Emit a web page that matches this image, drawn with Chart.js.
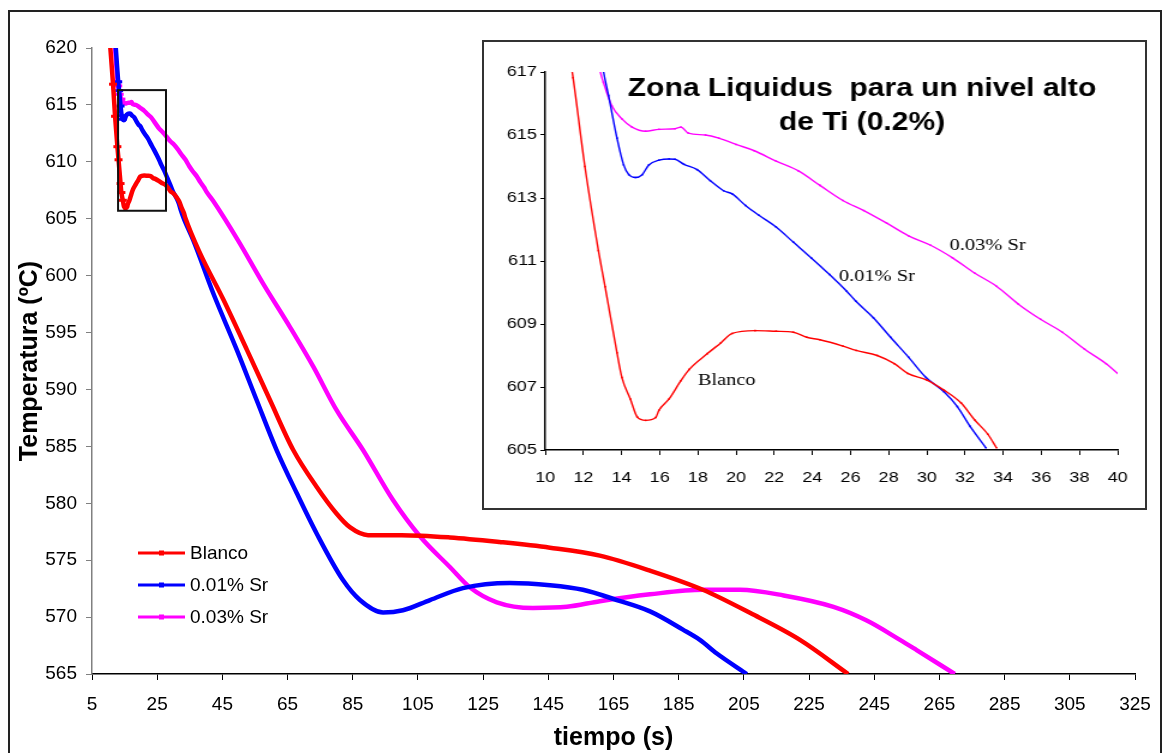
<!DOCTYPE html>
<html>
<head>
<meta charset="utf-8">
<script src="https://cdn.jsdelivr.net/npm/chart.js@4.4.1/dist/chart.umd.min.js"></script>
<style>
   body { margin: 0; background: #fff; }
   #main { position: absolute; left: 0; top: 0; }
   #insetBox { position: absolute; left: 482px; top: 40px; width: 661px; height: 466px; border: 2px solid #333; background: #fff; overflow: hidden; }
   /* the inset is drawn narrow and stretched sideways */
   #inset { position: absolute; left: 0; top: 0; transform: scaleX(1.2); transform-origin: 0 0; }
   #frame { position: absolute; left: 8px; top: 10px; width: 1150px; height: 780px; border: 2px solid #222; pointer-events: none; }
</style>
</head>
<body>
<canvas id="main" width="1166" height="753"></canvas>
<div id="insetBox"><canvas id="inset" width="551" height="466"></canvas></div>
<div id="frame"></div>
<script>
const FONT = 'Arial, "Liberation Sans", sans-serif';

const labels = ['Blanco', '0.01% Sr', '0.03% Sr'];
const colors = ['#ff0000', '#0000ff', '#ff00ff'];

// tiempo (s), temperatura (ºC) - liquidus zone, also the start of each full curve
const blancoStart = [[10.5, 620.5], [11.46, 616.82], [12.08, 614.0], [12.79, 611.33], [13.14, 610.18], [13.76, 608.09], [14.02, 607.3],
   [14.46, 606.62], [14.82, 606.05], [15.26, 605.94], [15.79, 606.03], [15.96, 606.26], [16.49, 606.62], [17.11, 607.2], [17.55, 607.56],
   [18.5, 608.06], [19.2, 608.4], [19.8, 608.7], [21.0, 608.79], [22.1, 608.77], [23.0, 608.74], [23.7, 608.58], [24.4, 608.5],
   [25.6, 608.3], [26.3, 608.16], [27.4, 608.0], [28.3, 607.74], [29.0, 607.43], [30.0, 607.22], [30.9, 606.9], [31.8, 606.49],
   [32.5, 605.96], [33.2, 605.5], [33.65, 605.07]];
const sr001Start = [[12.2, 620.4], [13.05, 617.03], [13.32, 616.25], [13.76, 614.9], [14.11, 614.05], [14.38, 613.74], [14.73, 613.65],
   [15.08, 613.74], [15.43, 614.05], [15.96, 614.2], [16.49, 614.24], [16.8, 614.23], [17.27, 614.07], [17.96, 613.9], [18.65, 613.55],
   [19.35, 613.23], [19.8, 613.13], [20.5, 612.76], [21.2, 612.45], [22.1, 612.08], [23.0, 611.6], [23.96, 611.09], [24.9, 610.57],
   [25.8, 610.04], [26.27, 609.73], [27.2, 609.2], [28.1, 608.58], [29.04, 607.95], [29.96, 607.3], [30.9, 606.85], [31.6, 606.38],
   [32.27, 605.75], [33.1, 605.07]];
const sr003Start = [[12.0, 620.3], [12.88, 617.03], [13.05, 616.67], [13.49, 615.93], [14.02, 615.51], [14.55, 615.25], [15.26, 615.12],
   [15.96, 615.18], [16.8, 615.2], [17.11, 615.25], [17.5, 615.06], [18.4, 615.0], [19.1, 614.9], [20.0, 614.7], [20.96, 614.5],
   [22.1, 614.17], [23.27, 613.86], [24.4, 613.4], [25.6, 612.92], [26.7, 612.6], [27.9, 612.2], [29.04, 611.8], [30.2, 611.5],
   [31.35, 611.1], [32.5, 610.62], [33.65, 610.2], [34.8, 609.63], [35.96, 609.15], [37.1, 608.74], [38.27, 608.2], [39.4, 607.74],
   [40.1, 607.38]];

// rest of the cooling curves
const blancoRest = [[38.1, 602.0], [45.3, 597.9], [52.5, 593.5], [59.6, 589.07], [66.7, 584.7], [73.9, 581.45], [80, 579.1],
   [84.1, 577.9], [89.7, 577.2], [100, 577.2], [114.8, 577.0], [130, 576.6], [145.5, 576.1], [160.8, 575.4], [176, 574.1],
   [192.4, 572.4], [207, 570.35], [222.2, 568.0], [237, 565.0]];
const sr001Rest = [[36.1, 603.1], [42.2, 598.45], [49.4, 593.5], [55.5, 589.07], [61.6, 584.7], [67.8, 580.9], [74, 577.3],
   [82, 573.25], [87.2, 571.5], [94.3, 570.4], [100.4, 570.6], [108.7, 571.5], [118.8, 572.55], [133.2, 573.0], [145.5, 572.8],
   [155.6, 572.4], [166, 571.5], [176.2, 570.5], [186.3, 568.9], [191.5, 568.0], [196.7, 566.8], [205.9, 565.0]];
const sr003Rest = [[42.1, 606.6], [49.8, 603.1], [57.5, 599.3], [65.7, 595.5], [72.9, 592.0], [80.0, 588.2], [88.1, 584.7],
   [97.3, 580.3], [105.6, 577.1], [114.8, 574.4], [121, 572.6], [129.2, 571.3], [140.3, 570.8], [150.7, 570.9], [160.8, 571.4],
   [176.2, 572.0], [192.4, 572.4], [203.8, 572.4], [217.2, 571.9], [232.5, 570.9], [242.7, 569.7], [252.9, 568.0], [258, 567.1],
   [269.7, 565.0]];

const xTicks = [5, 25, 45, 65, 85, 105, 125, 145, 165, 185, 205, 225, 245, 265, 285, 305, 325];
const yTicks = [565, 570, 575, 580, 585, 590, 595, 600, 605, 610, 615, 620];
const insetXTicks = [10, 12, 14, 16, 18, 20, 22, 24, 26, 28, 30, 32, 34, 36, 38, 40];
const insetYTicks = [605, 607, 609, 611, 613, 615, 617];

// zoom box drawn on the main chart (tiempo, temperatura)
const zoomBox = { x0: 13, x1: 27.7, y0: 605.7, y1: 616.3 };

const insetTitle = ['Zona Liquidus  para un nivel alto', 'de Ti (0.2%)'];
const insetNotes = [
   { text: '0.03% Sr', x: 31.2, y: 611.5 },
   { text: '0.01% Sr', x: 25.4, y: 610.5 },
   { text: 'Blanco', x: 18.0, y: 607.2 }
];

const toXY = arr => arr.map(p => ({ x: p[0], y: p[1] }));
const starts = [blancoStart, sr001Start, sr003Start];
const rests = [blancoRest, sr001Rest, sr003Rest];

function setTicks(list) {
   return scale => { scale.ticks = list.map(v => ({ value: v })); };
}

const legendPlugin = {
   id: 'curveLegend',
   afterDraw(chart) {
      const ctx = chart.ctx;
      ctx.save();
      chart.data.datasets.forEach((ds, i) => {
         const y = 553 + i * 32;
         ctx.strokeStyle = ds.borderColor;
         ctx.lineWidth = 3;
         ctx.beginPath();
         ctx.moveTo(138, y);
         ctx.lineTo(185, y);
         ctx.stroke();
         ctx.fillStyle = ds.borderColor;
         ctx.fillRect(159, y - 2.5, 5, 5);
         ctx.fillStyle = '#000';
         ctx.font = '19px ' + FONT;
         ctx.textBaseline = 'middle';
         ctx.fillText(ds.label, 190, y + 1);
      });
      ctx.restore();
   }
};

const boxPlugin = {
   id: 'zoomBox',
   afterDatasetsDraw(chart) {
      const { x, y } = chart.scales;
      const ctx = chart.ctx;
      const left = x.getPixelForValue(zoomBox.x0), right = x.getPixelForValue(zoomBox.x1);
      const top = y.getPixelForValue(zoomBox.y1), bottom = y.getPixelForValue(zoomBox.y0);
      ctx.save();
      ctx.strokeStyle = '#111';
      ctx.lineWidth = 2;
      ctx.strokeRect(left, top, right - left, bottom - top);
      ctx.restore();
   }
};

new Chart(document.getElementById('main'), {
   type: 'line',
   data: {
      datasets: labels.map((label, i) => ({
         label: label,
         data: toXY(starts[i].concat(rests[i])),
         borderColor: colors[i],
         backgroundColor: colors[i],
         borderWidth: 4.5,
         pointStyle: 'line',
         // dash markers only show on the steep first seconds
         pointRadius: c => (c.raw && c.raw.x < 14.5 ? 4 : 0),
         pointBorderWidth: 3,
         pointBorderColor: colors[i],
         cubicInterpolationMode: 'monotone',
         fill: false
      }))
   },
   options: {
      responsive: false,
      animation: false,
      events: [],
      layout: { padding: { top: 48, right: 31, left: 0, bottom: 0 } },
      plugins: { legend: { display: false }, tooltip: { enabled: false } },
      scales: {
         x: {
            type: 'linear', min: 5, max: 325,
            afterBuildTicks: setTicks(xTicks),
            afterFit: s => { s.height = 79; },
            grid: { drawOnChartArea: false, tickLength: 6, color: '#000' },
            border: { color: '#000', width: 1.5 },
            ticks: { font: { size: 19, family: FONT }, color: '#000', padding: 13, maxRotation: 0, autoSkip: false },
            title: { display: true, text: 'tiempo (s)', color: '#000', font: { size: 25, weight: 'bold', family: FONT }, padding: { top: 0, bottom: 0 } }
         },
         y: {
            min: 565, max: 620,
            afterBuildTicks: setTicks(yTicks),
            afterFit: s => { s.width = 92; },
            grid: { drawOnChartArea: false, tickLength: 6, color: '#808080' },
            border: { color: '#808080', width: 1.5 },
            ticks: { font: { size: 19, family: FONT }, color: '#000', padding: 9 },
            title: { display: true, text: 'Temperatura (ºC)', color: '#000', font: { size: 25, weight: 'bold', family: FONT }, padding: { top: 15, bottom: 0 } }
         }
      }
   },
   plugins: [legendPlugin, boxPlugin]
});

const insetTextPlugin = {
   id: 'insetText',
   afterDraw(chart) {
      const { x, y } = chart.scales;
      const ctx = chart.ctx;
      ctx.save();
      ctx.fillStyle = '#000';
      ctx.textAlign = 'center';
      ctx.textBaseline = 'middle';
      ctx.font = 'bold 25px ' + FONT;
      insetTitle.forEach((line, i) => ctx.fillText(line, 315, 47 + i * 34));
      ctx.textAlign = 'left';
      ctx.font = '17px "Liberation Serif", "Times New Roman", serif';
      insetNotes.forEach(n => ctx.fillText(n.text, x.getPixelForValue(n.x), y.getPixelForValue(n.y)));
      ctx.restore();
   }
};

new Chart(document.getElementById('inset'), {
   type: 'line',
   data: {
      datasets: labels.map((label, i) => ({
         label: label,
         data: toXY(starts[i]),
         borderColor: colors[i],
         backgroundColor: colors[i],
         borderWidth: 1.4,
         pointStyle: 'rect',
         pointRadius: 1.1,
         pointBorderWidth: 0,
         cubicInterpolationMode: 'monotone',
         fill: false
      }))
   },
   options: {
      responsive: false,
      animation: false,
      events: [],
      layout: { padding: { top: 30, right: 23, left: 0, bottom: 0 } },
      plugins: { legend: { display: false }, tooltip: { enabled: false } },
      scales: {
         x: {
            type: 'linear', min: 10, max: 40,
            afterBuildTicks: setTicks(insetXTicks),
            afterFit: s => { s.height = 58; },
            grid: { drawOnChartArea: false, tickLength: 5, color: '#000' },
            border: { color: '#000', width: 1.5 },
            ticks: { font: { size: 15, family: FONT }, color: '#000', padding: 14, maxRotation: 0, autoSkip: false }
         },
         y: {
            min: 605, max: 617,
            afterBuildTicks: setTicks(insetYTicks),
            afterFit: s => { s.width = 51; },
            grid: { drawOnChartArea: false, tickLength: 4, color: '#000' },
            border: { color: '#000', width: 1.5 },
            ticks: { font: { size: 15, family: FONT }, color: '#000', padding: 3 }
         }
      }
   },
   plugins: [insetTextPlugin]
});
</script>
</body>
</html>
